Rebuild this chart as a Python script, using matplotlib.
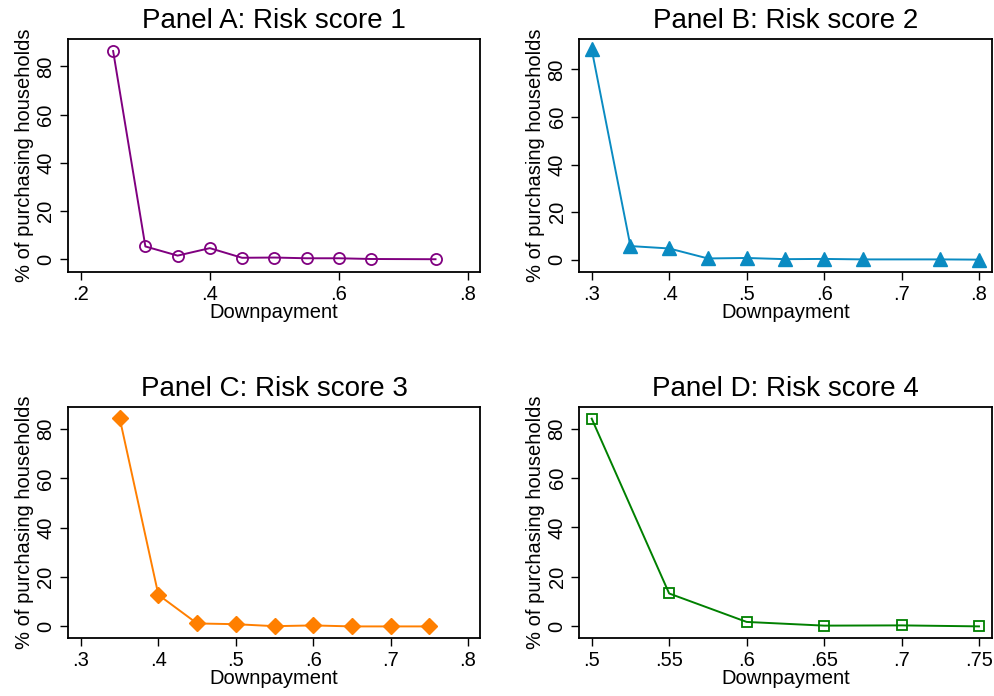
import matplotlib
matplotlib.use("Agg")
import matplotlib.pyplot as plt

plt.rcParams['font.family'] = ['Liberation Sans', 'DejaVu Sans']

# Share of purchasing households by downpayment, per risk score
dp_a = [0.25, 0.30, 0.35, 0.40, 0.45, 0.50, 0.55, 0.60, 0.65, 0.75]
pct_a = [86.4, 5.3, 1.5, 4.6, 0.6, 0.7, 0.4, 0.4, 0.1, 0.0]

dp_b = [0.30, 0.35, 0.40, 0.45, 0.50, 0.55, 0.60, 0.65, 0.75, 0.80]
pct_b = [88.4, 5.7, 4.7, 0.5, 0.7, 0.2, 0.3, 0.1, 0.1, 0.0]

dp_c = [0.35, 0.40, 0.45, 0.50, 0.55, 0.60, 0.65, 0.70, 0.75]
pct_c = [84.4, 12.8, 1.2, 0.9, 0.1, 0.4, 0.0, 0.0, 0.0]

dp_d = [0.50, 0.55, 0.60, 0.65, 0.70, 0.75]
pct_d = [84.0, 13.3, 1.8, 0.3, 0.4, 0.0]

titles = ["Panel A: Risk score 1", "Panel B: Risk score 2",
          "Panel C: Risk score 3", "Panel D: Risk score 4"]
xticks_a = [0.2, 0.4, 0.6, 0.8]
xticks_b = [0.3, 0.4, 0.5, 0.6, 0.7, 0.8]
xticks_c = [0.3, 0.4, 0.5, 0.6, 0.7, 0.8]
xticks_d = [0.5, 0.55, 0.6, 0.65, 0.7, 0.75]
yticks = [0, 20, 40, 60, 80]

W, H = 995, 696
fig = plt.figure(figsize=(W / 100, H / 100), dpi=100)


def px_axes(x0, y0, x1, y1):
    return fig.add_axes([x0 / W, 1 - y1 / H, (x1 - x0) / W, (y1 - y0) / H])


def fmt_tick(v):
    s = f"{v:g}"
    return s[1:] if s.startswith("0.") else s


panels = [
    (px_axes(68, 39, 480, 272), dp_a, pct_a, xticks_a, (0.180, 0.819), (-5.3, 91.4),
     dict(color='#800080', marker='o', mfc='none', ms=8, mew=1.3)),
    (px_axes(579, 39, 992, 272), dp_b, pct_b, xticks_b, (0.2836, 0.8168), (-5.2, 92.8),
     dict(color='#0a8bc2', marker='^', ms=9.5)),
    (px_axes(68, 407, 480, 638), dp_c, pct_c, xticks_c, (0.2832, 0.8155), (-4.7, 89.0),
     dict(color='#ff7f00', marker='D', ms=8)),
    (px_axes(579, 407, 992, 638), dp_d, pct_d, xticks_d, (0.4918, 0.7584), (-4.7, 88.7),
     dict(color='#008000', marker='s', mfc='none', ms=7.5, mew=1.3)),
]

for (ax, x, y, xt, xl, yl, style), title in zip(panels, titles):
    ax.plot(x, y, lw=1.4, **style)
    ax.set_xlim(*xl)
    ax.set_ylim(*yl)
    ax.set_xticks(xt)
    ax.set_xticklabels([fmt_tick(v) for v in xt])
    ax.set_yticks(yticks)
    ax.set_yticklabels([str(v) for v in yticks], rotation=90, va='center')
    ax.tick_params(labelsize=14.5, length=6, width=1, direction='out', pad=3)
    for sp in ax.spines.values():
        sp.set_linewidth(1.3)
    ax.set_title(title, fontsize=20, pad=8)
    ax.set_xlabel("Downpayment", fontsize=14.5, labelpad=0)
    ax.set_ylabel("% of purchasing households", fontsize=14.5, labelpad=2)

fig.savefig("out.png", dpi=100)
